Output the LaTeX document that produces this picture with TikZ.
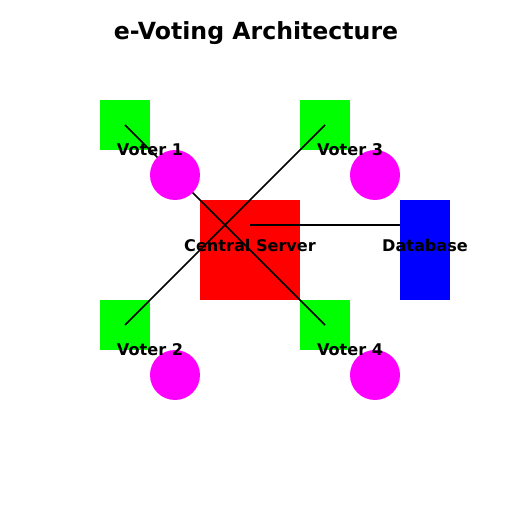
\documentclass[tikz,border=0pt]{standalone}
\usepackage{fontspec}
\setmainfont{DejaVu Sans}
\definecolor{mag}{RGB}{255,0,255}
\definecolor{grn}{RGB}{0,255,0}
\definecolor{rd}{RGB}{255,0,0}
\definecolor{bl}{RGB}{0,0,255}
\begin{document}
\begin{tikzpicture}[x=1pt,y=1pt,
  sq/.style={fill=grn, minimum size=50pt, inner sep=0pt, outer sep=0pt},
  dot/.style={circle, fill=mag, minimum size=50pt, inner sep=0pt, outer sep=0pt},
  lbl/.style={font=\fontsize{16.1}{19}\selectfont\bfseries, inner sep=0pt},
  wire/.style={line width=1.5pt, black}]
\useasboundingbox (0,0) rectangle (512,512);
\node[lbl, font=\fontsize{23.6}{27}\selectfont\bfseries] (title) at (256,478.5) {e-Voting Architecture};
% squares
\node[sq] (v1) at (125,387) {};
\node[sq] (v3) at (325,387) {};
\node[sq] (v2) at (125,187) {};
\node[sq] (v4) at (325,187) {};
\node[fill=rd, minimum size=100pt, inner sep=0pt, outer sep=0pt] (server) at (250,262) {};
\node[fill=bl, minimum width=50pt, minimum height=100pt, inner sep=0pt, outer sep=0pt] (db) at (425,262) {};
% connectors
\coordinate (s1) at ([yshift=25pt]server.center);
\coordinate (d1) at ([yshift=25pt]db.west);
\draw[wire] (v1.center) -- (v4.center);
\draw[wire] (v3.center) -- (v2.center);
\draw[wire] (s1) -- (d1);
% circles
\node[dot] (c1) at (175,337) {};
\node[dot] (c3) at (375,337) {};
\node[dot] (c2) at (175,137) {};
\node[dot] (c4) at (375,137) {};
% labels
\node[lbl] (l1) at (150,362) {Voter 1};
\node[lbl] (l3) at (350,362) {Voter 3};
\node[lbl] (l2) at (150,162) {Voter 2};
\node[lbl] (l4) at (350,162) {Voter 4};
\node[lbl] (ls) at (250,267) {Central Server};
\node[lbl] (ld) at (425,267) {Database};
\end{tikzpicture}
\end{document}
